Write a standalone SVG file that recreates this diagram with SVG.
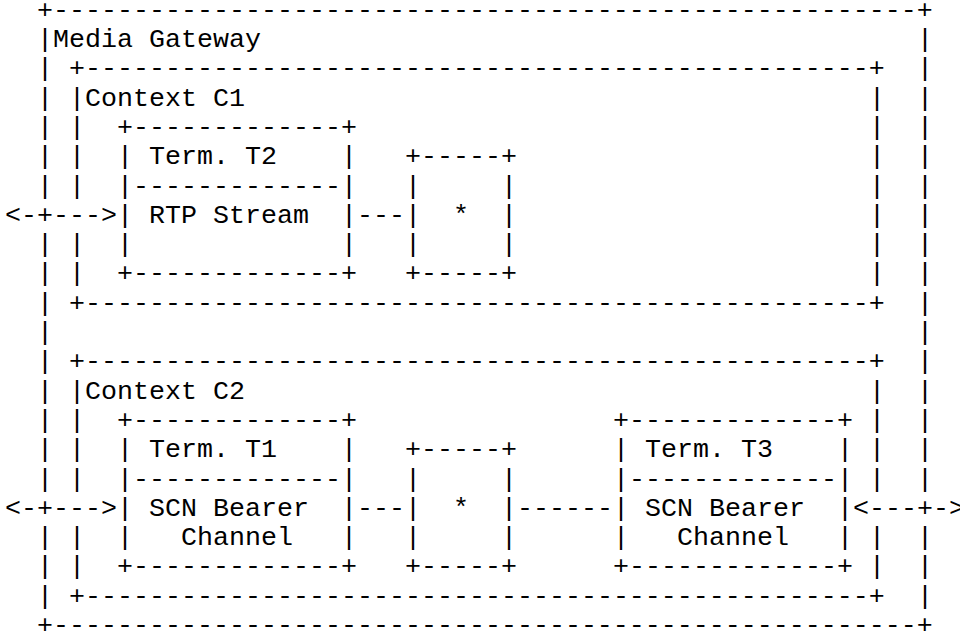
<svg xmlns="http://www.w3.org/2000/svg" width="960" height="635" viewBox="0 0 960 635">
<style>
text { font-family: "Liberation Mono", "Courier New", monospace; font-size: 26.667px; fill: #000; }
</style>
<rect width="960" height="635" fill="#fff"/>
<g id="media-gateway">
<text x="37" y="17.7">+------------------------------------------------------+</text>
<text x="53" y="47">Media Gateway</text>
<text x="37" y="47">|</text><text x="37" y="76.3">|</text><text x="37" y="105.6">|</text><text x="37" y="134.9">|</text><text x="37" y="164.2">|</text><text x="37" y="193.5">|</text><text x="37" y="252.1">|</text><text x="37" y="281.4">|</text><text x="37" y="310.7">|</text><text x="37" y="340">|</text><text x="37" y="369.3">|</text><text x="37" y="398.6">|</text><text x="37" y="427.9">|</text><text x="37" y="457.2">|</text><text x="37" y="486.5">|</text><text x="37" y="545.1">|</text><text x="37" y="574.4">|</text><text x="37" y="603.7">|</text>
<text x="917" y="47">|</text><text x="917" y="76.3">|</text><text x="917" y="105.6">|</text><text x="917" y="134.9">|</text><text x="917" y="164.2">|</text><text x="917" y="193.5">|</text><text x="917" y="222.8">|</text><text x="917" y="252.1">|</text><text x="917" y="281.4">|</text><text x="917" y="310.7">|</text><text x="917" y="340">|</text><text x="917" y="369.3">|</text><text x="917" y="398.6">|</text><text x="917" y="427.9">|</text><text x="917" y="457.2">|</text><text x="917" y="486.5">|</text><text x="917" y="545.1">|</text><text x="917" y="574.4">|</text><text x="917" y="603.7">|</text>
<text x="37" y="633">+------------------------------------------------------+</text>
</g>
<g id="context-c1">
<text x="69" y="76.3">+-------------------------------------------------+</text>
<text x="85" y="105.6">Context C1</text>
<text x="69" y="105.6">|</text><text x="69" y="134.9">|</text><text x="69" y="164.2">|</text><text x="69" y="193.5">|</text><text x="69" y="252.1">|</text><text x="69" y="281.4">|</text>
<text x="869" y="105.6">|</text><text x="869" y="134.9">|</text><text x="869" y="164.2">|</text><text x="869" y="193.5">|</text><text x="869" y="222.8">|</text><text x="869" y="252.1">|</text><text x="869" y="281.4">|</text>
<text x="69" y="310.7">+-------------------------------------------------+</text>
</g>
<g id="term-t2">
<text x="117" y="134.9">+-------------+</text>
<text x="117" y="164.2">|</text><text x="341" y="164.2">|</text>
<text x="149" y="164.2">Term. T2</text>
<text x="117" y="193.5">|-------------|</text>
<text x="117" y="222.8">|</text><text x="341" y="222.8">|</text>
<text x="149" y="222.8">RTP Stream</text>
<text x="117" y="252.1">|</text><text x="341" y="252.1">|</text>
<text x="117" y="281.4">+-------------+</text>
</g>
<g id="star-c1">
<text x="405" y="164.2">+-----+</text>
<text x="405" y="193.5">|</text><text x="501" y="193.5">|</text>
<text x="405" y="222.8">|</text><text x="501" y="222.8">|</text>
<text x="453" y="222.8">*</text>
<text x="405" y="252.1">|</text><text x="501" y="252.1">|</text>
<text x="405" y="281.4">+-----+</text>
</g>
<g id="context-c2">
<text x="69" y="369.3">+-------------------------------------------------+</text>
<text x="85" y="398.6">Context C2</text>
<text x="69" y="398.6">|</text><text x="69" y="427.9">|</text><text x="69" y="457.2">|</text><text x="69" y="486.5">|</text><text x="69" y="545.1">|</text><text x="69" y="574.4">|</text>
<text x="869" y="398.6">|</text><text x="869" y="427.9">|</text><text x="869" y="457.2">|</text><text x="869" y="486.5">|</text><text x="869" y="545.1">|</text><text x="869" y="574.4">|</text>
<text x="69" y="603.7">+-------------------------------------------------+</text>
</g>
<g id="term-t1">
<text x="117" y="427.9">+-------------+</text>
<text x="117" y="457.2">|</text><text x="341" y="457.2">|</text>
<text x="149" y="457.2">Term. T1</text>
<text x="117" y="486.5">|-------------|</text>
<text x="117" y="515.8">|</text><text x="341" y="515.8">|</text>
<text x="149" y="515.8">SCN Bearer</text>
<text x="117" y="545.1">|</text><text x="341" y="545.1">|</text>
<text x="181" y="545.1">Channel</text>
<text x="117" y="574.4">+-------------+</text>
</g>
<g id="star-c2">
<text x="405" y="457.2">+-----+</text>
<text x="405" y="486.5">|</text><text x="501" y="486.5">|</text>
<text x="405" y="515.8">|</text><text x="501" y="515.8">|</text>
<text x="453" y="515.8">*</text>
<text x="405" y="545.1">|</text><text x="501" y="545.1">|</text>
<text x="405" y="574.4">+-----+</text>
</g>
<g id="term-t3">
<text x="613" y="427.9">+-------------+</text>
<text x="613" y="457.2">|</text><text x="837" y="457.2">|</text>
<text x="645" y="457.2">Term. T3</text>
<text x="613" y="486.5">|-------------|</text>
<text x="613" y="515.8">|</text><text x="837" y="515.8">|</text>
<text x="645" y="515.8">SCN Bearer</text>
<text x="613" y="545.1">|</text><text x="837" y="545.1">|</text>
<text x="677" y="545.1">Channel</text>
<text x="613" y="574.4">+-------------+</text>
</g>
<g id="connectors">
<text x="5" y="222.8">&lt;-+---&gt;</text>
<text x="357" y="222.8">---</text>
<text x="5" y="515.8">&lt;-+---&gt;</text>
<text x="357" y="515.8">---</text>
<text x="517" y="515.8">------</text>
<text x="853" y="515.8">&lt;---+-&gt;</text>
</g>
</svg>
